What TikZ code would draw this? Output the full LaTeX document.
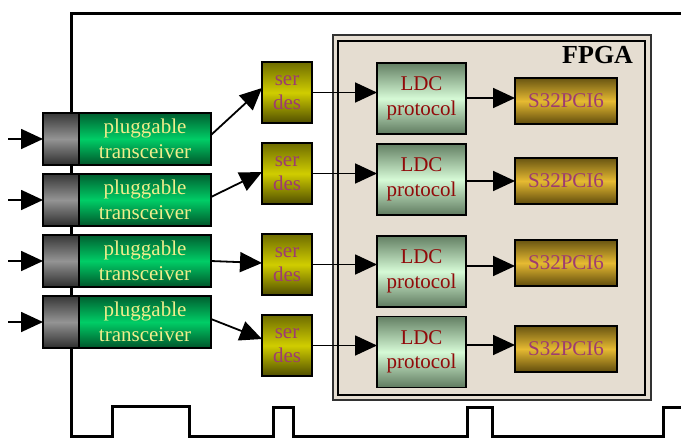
\documentclass[tikz,border=0pt]{standalone}
\usepackage{fontspec}
\setmainfont{Liberation Serif}
\usetikzlibrary{arrows.meta}
\definecolor{txtyellow}{RGB}{240,238,140}
\definecolor{txtmauve}{RGB}{158,60,112}
\definecolor{txtred}{RGB}{145,10,10}
\definecolor{fpgabg}{RGB}{229,221,209}
\begin{document}
\begin{tikzpicture}[x=1pt,y=-1pt,
  every node/.style={inner sep=0pt,outer sep=0pt,font=\fontsize{21}{24.5}\selectfont,align=center},
  boxline/.style={draw=black,line width=1.5pt},
  plugcap/.style={boxline,minimum width=36pt,minimum height=52pt,
    top color={rgb,255:red,55;green,55;blue,55},bottom color={rgb,255:red,45;green,45;blue,45},
    middle color={rgb,255:red,148;green,148;blue,148}},
  plugbody/.style={boxline,minimum width=132pt,minimum height=52pt,text=txtyellow,
    top color={rgb,255:red,0;green,95;blue,48},bottom color={rgb,255:red,0;green,85;blue,42},
    middle color={rgb,255:red,0;green,205;blue,102}},
  serdesbox/.style={boxline,minimum width=50pt,minimum height=61pt,text=txtmauve,
    top color={rgb,255:red,110;green,108;blue,0},bottom color={rgb,255:red,80;green,78;blue,0},
    middle color={rgb,255:red,208;green,205;blue,0}},
  ldcbox/.style={boxline,minimum width=89pt,minimum height=71pt,text=txtred,
    top color={rgb,255:red,100;green,128;blue,100},bottom color={rgb,255:red,95;green,122;blue,95},
    middle color={rgb,255:red,214;green,250;blue,214}},
  pcibox/.style={boxline,minimum width=102pt,minimum height=46pt,text=txtmauve,
    top color={rgb,255:red,105;green,85;blue,18},bottom color={rgb,255:red,95;green,75;blue,12},
    middle color={rgb,255:red,230;green,186;blue,50}},
  conn/.style={line width=1.8pt,-{Triangle[length=22pt,width=20pt]}},
  board/.style={line width=3pt,line join=miter}
]
\useasboundingbox (0,0) rectangle (681,440);
% board outline
\draw[board] (681,13) -- (71,13) -- (71,436) -- (112,436) -- (112,406) -- (189,406) -- (189,436)
  -- (273,436) -- (273,407) -- (293,407) -- (293,436) -- (467,436) -- (467,407) -- (492,407)
  -- (492,436) -- (663,436) -- (663,407) -- (684,407);
% FPGA
\node[draw={rgb,255:red,50;green,50;blue,50},line width=1.2pt,fill=fpgabg,minimum width=318pt,minimum height=365pt] (fpgaout) at (492,217.5) {};
\node[draw=black,line width=2.4pt,minimum width=307pt,minimum height=354pt] (fpga) at (491.5,218) {};
\node[font=\fontsize{26}{30}\selectfont\bfseries,anchor=base east] (fpgalbl) at (633,63) {FPGA};
% transceivers
\foreach \i/\y in {1/139,2/200,3/261,4/322}{
  \node[plugcap] (g\i) at (61,\y) {};
  \node[plugbody] (t\i) at (145,\y) {pluggable\\transceiver};
  \coordinate (in\i) at (8,\y);
  \draw[conn] (in\i) -- (g\i.west);
}
% serdes
\node[serdesbox] (s1) at (287,92.5) {ser\\des};
\node[serdesbox] (s2) at (287,173.5) {ser\\des};
\node[serdesbox] (s3) at (287,264.5) {ser\\des};
\node[serdesbox] (s4) at (287,345.5) {ser\\des};
% LDC
\node[ldcbox] (l1) at (421.5,98.5) {LDC\\protocol};
\node[ldcbox] (l2) at (421.5,179.5) {LDC\\protocol};
\node[ldcbox] (l3) at (421.5,271.5) {LDC\\protocol};
\node[ldcbox] (l4) at (421.5,352) {LDC\\protocol};
% S32PCI6
\node[pcibox] (p1) at (566,101) {S32PCI6};
\node[pcibox] (p2) at (566,181) {S32PCI6};
\node[pcibox] (p3) at (566,263) {S32PCI6};
\node[pcibox] (p4) at (566,349) {S32PCI6};
% transceiver -> serdes
\draw[conn] (t1.east |- 0,135) -- (s1.west |- 0,88);
\draw[conn] (t2.east |- 0,197) -- (s2.west |- 0,172);
\draw[conn] (t3.east |- 0,261) -- (s3.west |- 0,263);
\draw[conn] (t4.east |- 0,319) -- (s4.west |- 0,339);
% serdes -> LDC
\foreach \i in {1,2,3,4}{
  \draw[conn] (s\i.east) -- (s\i.east -| l\i.west);
}
% LDC -> S32PCI6
\draw[conn] (l1.east |- 0,98) -- (p1.west |- 0,98);
\draw[conn] (l2.east |- 0,181) -- (p2.west |- 0,181);
\draw[conn] (l3.east |- 0,266) -- (p3.west |- 0,266);
\draw[conn] (l4.east |- 0,345) -- (p4.west |- 0,345);
\end{tikzpicture}
\end{document}
